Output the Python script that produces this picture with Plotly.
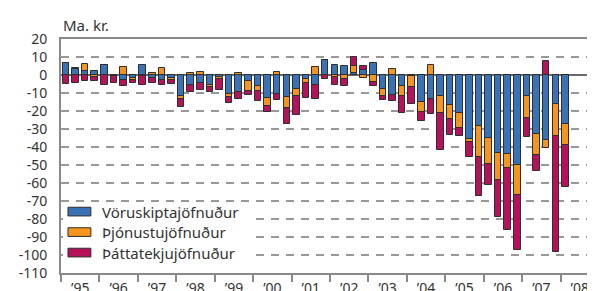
import plotly.graph_objects as go

# ---------------- data ----------------
quarters = [f"{y}Q{q}" for y in range(1995, 2009) for q in range(1, 5)][:53]

voruskipti = [
    6.5, 3.2, 2.5, 2.0,
    5.5, -0.8, -3.0, -1.5,
    5.5, -1.5, -2.5, -1.5,
    -11.5, -5.3, -4.3, -5.5,
    -1.3, -10.4, -9.6, -3.4,
    -6.0, -12.5, -10.4, -12.2,
    -7.8, -2.3, -5.5, 8.6,
    5.7, 5.2, 1.2, 2.7,
    6.6, -7.8, -11.2, -5.9,
    -0.3, -14.8, -13.2, -11.5,
    -16.6, -21.1, -35.8, -28.3,
    -35.0, -43.2, -43.8, -49.8,
    -11.7, -32.8, -36.0, -16.0,
    -27.3,
]
thjonustu = [
    0.0, 0.8, 3.5, -0.9,
    0.0, 0.0, 4.5, -1.0,
    -0.5, 1.0, 4.0, -1.0,
    -1.8, 1.0, 1.5, -1.2,
    -1.0, -1.9, 1.3, -5.3,
    -3.0, -4.7, 1.6, -6.4,
    -4.0, -1.9, 4.5, 0.0,
    -0.9, -2.2, 3.9, -1.5,
    -3.8, -3.7, 3.4, -5.9,
    -6.5, -6.0, 5.7, -9.5,
    -7.7, -8.6, -1.3, -17.5,
    -14.5, -15.3, -7.9, -16.6,
    -12.3, -11.7, -4.5, -18.0,
    -11.4,
]
thattatekju = [
    -5.0, -4.2, -3.3, -2.3,
    -5.5, -3.5, -3.0, -1.8,
    -5.2, -3.0, -3.0, -2.3,
    -4.3, -4.0, -4.2, -3.0,
    -6.0, -3.1, -3.5, -2.6,
    -5.3, -3.5, -3.7, -8.8,
    -10.3, -8.3, -7.7, -2.2,
    -4.5, -4.0, 4.8, 2.1,
    -2.3, -2.2, -3.0, -9.2,
    -9.5, -5.0, -8.2, -20.4,
    -9.2, -4.1, -8.5, -21.6,
    -11.8, -20.2, -34.3, -30.6,
    -10.4, -8.6, 7.8, -64.5,
    -23.3,
]

series_names = ["Vöruskiptajöfnuður", "Þjónustujöfnuður", "Þáttatekjujöfnuður"]
series_colors = ["#3a72b8", "#f7941e", "#b5125b"]

year_labels = ["’95", "’96", "’97", "’98", "’99", "’00", "’01",
               "’02", "’03", "’04", "’05", "’06", "’07", "’08"]
y_ticks = [20, 10, 0, -10, -20, -30, -40, -50, -60, -70, -80, -90, -100, -110]
y_ticktext = [str(v) for v in y_ticks]

# x positions: centre of each quarter on a continuous year scale
xpos = [int(q[:4]) + (int(q[-1]) - 0.5) / 4 for q in quarters]
year_centers = [1995 + i + 0.5 for i in range(len(year_labels))]

W, H = 595, 291
ML, MR, MT, MB = 53, 2, 31, 18
PW, PH = W - ML - MR, H - MT - MB

def px2paper(x, y):
    return (x - ML) / PW, (H - MB - y) / PH

fig = go.Figure()
for name, vals, col in zip(series_names, [voruskipti, thjonustu, thattatekju], series_colors):
    fig.add_trace(go.Bar(
        x=xpos, y=vals, name=name, width=0.17,
        marker=dict(color=col, line=dict(color="#2e2e2e", width=1)),
        showlegend=False,
    ))

# dashed horizontal gridlines at the tick values (drawn through the y scale)
for v in y_ticks:
    if v in (20, 0, -110):
        continue
    fig.add_shape(type="line", xref="paper", yref="y", x0=0, x1=1, y0=v, y1=v,
                  line=dict(color="#333333", width=1.2, dash="8px,7px"), layer="below")

font = "Noto Sans, Open Sans, DejaVu Sans, sans-serif"
fig.update_layout(
    width=W, height=H,
    margin=dict(l=ML, r=MR, t=MT, b=MB),
    barmode="relative",
    bargap=0,
    plot_bgcolor="white", paper_bgcolor="white",
    font=dict(family=font, size=14, color="#333333"),
)
fig.update_xaxes(
    range=[1995, 2009],
    tickmode="array", tickvals=year_centers, ticktext=year_labels,
    ticks="outside", ticklen=1, tickcolor="rgba(0,0,0,0)",
    tickfont=dict(size=14, color="#333333"),
    showgrid=False, zeroline=False,
    showline=True, linecolor="#8a8a8a", linewidth=2, mirror=True,
    minor=dict(tick0=1995, dtick=1, ticks="outside", ticklen=7,
               tickcolor="#8a8a8a", tickwidth=1.5, showgrid=False),
)
fig.update_yaxes(
    range=[-110, 20],
    tickmode="array", tickvals=y_ticks, ticktext=y_ticktext,
    ticks="outside", ticklen=9, tickcolor="rgba(0,0,0,0)",
    tickfont=dict(size=14, color="#333333"),
    showgrid=False,
    zeroline=True, zerolinecolor="#6a6a6a", zerolinewidth=1.6,
    showline=True, linecolor="#8a8a8a", linewidth=2, mirror=True,
)

# unit label
fig.add_annotation(text="Ma. kr.", xref="paper", yref="paper",
                   x=px2paper(53, 0)[0], y=px2paper(0, 17)[1],
                   xanchor="left", yanchor="middle", showarrow=False,
                   font=dict(size=15, color="#333333"))

# legend (white box + swatches + labels)
bx0, by0 = px2paper(55, 204)
bx1, by1 = px2paper(245, 266)
fig.add_shape(type="rect", xref="paper", yref="paper", x0=bx0, x1=bx1, y0=by1, y1=by0,
              fillcolor="white", line=dict(width=0), layer="above")
for i, (name, col) in enumerate(zip(series_names, series_colors)):
    cy = 209.5 + i * 21.2
    sx0, sy0 = px2paper(60, cy - 4.5)
    sx1, sy1 = px2paper(83, cy + 4.5)
    fig.add_shape(type="rect", xref="paper", yref="paper", x0=sx0, x1=sx1, y0=sy1, y1=sy0,
                  fillcolor=col, line=dict(color="#2e2e2e", width=1), layer="above")
    tx, ty = px2paper(92, cy)
    fig.add_annotation(text=name, xref="paper", yref="paper", x=tx, y=ty,
                       xanchor="left", yanchor="middle", showarrow=False,
                       font=dict(size=15, color="#333333"))

fig.write_html("out.html")
